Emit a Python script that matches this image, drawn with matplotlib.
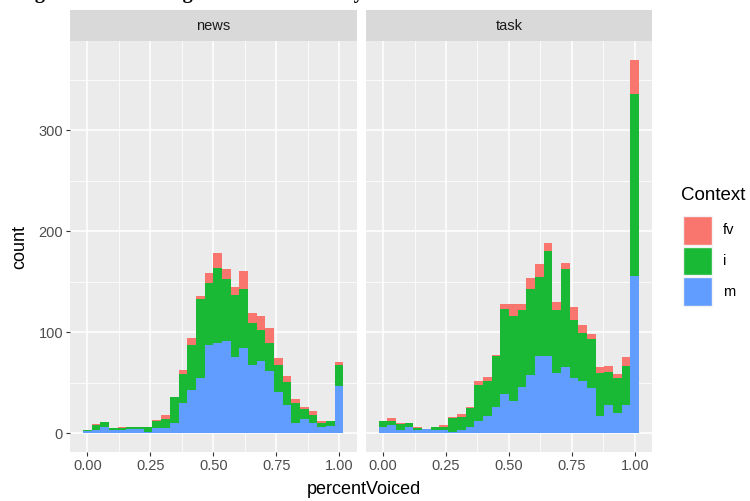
import matplotlib
matplotlib.use("Agg")
import matplotlib.pyplot as plt
from matplotlib.patches import Rectangle
from matplotlib.ticker import MultipleLocator
import numpy as np

plt.rcParams['font.family'] = ['Liberation Sans', 'DejaVu Sans']

# 30 bins centred on k/29 (ggplot default bins=30 over 0..1)
n_bins = 30
contexts = ["fv", "i", "m"]
colors = {"fv": "#F8766D", "i": "#19B936", "m": "#619CFF"}

# counts per bin
news_m = [2, 3, 6, 3, 3, 4, 4, 1, 5, 5, 10, 30, 43, 55, 87, 89, 91, 76, 84, 68,
          72, 62, 41, 28, 10, 14, 10, 6, 7, 47]
news_i = [1, 5, 5, 2, 2, 2, 2, 5, 7, 9, 26, 29, 44, 78, 62, 75, 62, 61, 59, 41,
          30, 27, 27, 23, 20, 10, 8, 4, 5, 21]
news_fv = [0, 1, 0, 0, 1, 0, 0, 0, 1, 4, 0, 4, 7, 3, 10, 15, 10, 8, 18, 10,
           14, 15, 7, 6, 4, 2, 4, 2, 0, 3]

task_m = [6, 8, 3, 6, 3, 4, 3, 3, 1, 3, 6, 12, 17, 26, 39, 32, 46, 58, 77, 77,
          60, 66, 55, 52, 45, 17, 28, 20, 28, 156]
task_i = [6, 4, 6, 4, 2, 0, 3, 3, 14, 13, 19, 36, 35, 51, 84, 84, 76, 85, 78, 104,
          62, 97, 57, 47, 48, 43, 33, 35, 39, 180]
task_fv = [0, 3, 1, 0, 1, 0, 0, 2, 1, 3, 1, 4, 4, 1, 5, 12, 6, 11, 13, 7,
           8, 6, 13, 8, 5, 6, 6, 4, 9, 34]

panels = [("news", news_m, news_i, news_fv), ("task", task_m, task_i, task_fv)]

W, H = 750, 501
fig = plt.figure(figsize=(W / 100, H / 100), dpi=100)

# title is cropped in the source image: only the descenders show at the top edge
fig.text(17 / W, 1 + 2 / H, "Figure 4. The Histogram of Voiced % by Context",
         family="Liberation Serif", weight="bold", fontsize=14.5,
         ha="left", va="baseline", color="black")

centers = np.arange(n_bins) / (n_bins - 1)
bw = 1 / (n_bins - 1)
ymax = max(max(np.array(m) + np.array(i) + np.array(f)) for _, m, i, f in panels)

lefts = [70, 365.7]
pw = 286.5
top_px, bot_px, strip_top = 41, 452, 10

for (name, m, i, f), lx in zip(panels, lefts):
    ax = fig.add_axes([lx / W, 1 - bot_px / H, pw / W, (bot_px - top_px) / H])
    ax.set_facecolor("#EBEBEB")
    m, i, f = np.array(m), np.array(i), np.array(f)
    ax.bar(centers, m, width=bw, color=colors["m"], linewidth=0, zorder=3)
    ax.bar(centers, i, width=bw, bottom=m, color=colors["i"], linewidth=0, zorder=3)
    ax.bar(centers, f, width=bw, bottom=m + i, color=colors["fv"], linewidth=0, zorder=3)

    lo, hi = -bw / 2, 1 + bw / 2
    pad = 0.05 * (hi - lo)
    ax.set_xlim(lo - pad, hi + pad)
    ax.set_ylim(-0.05 * ymax, 1.05 * ymax)
    ax.xaxis.set_major_locator(MultipleLocator(0.25))
    ax.xaxis.set_minor_locator(MultipleLocator(0.125))
    ax.yaxis.set_major_locator(MultipleLocator(100))
    ax.yaxis.set_minor_locator(MultipleLocator(50))
    ax.grid(which="major", color="white", linewidth=1.1, zorder=1)
    ax.grid(which="minor", color="white", linewidth=0.55, zorder=1)
    ax.set_axisbelow(True)
    for s in ax.spines.values():
        s.set_visible(False)
    ax.tick_params(which="minor", length=0)
    ax.tick_params(which="major", length=3, width=0.8, color="#333333",
                   labelcolor="#4D4D4D", labelsize=10.5, pad=2)
    ax.set_xticklabels([f"{v:.2f}" for v in ax.get_xticks()])
    if name == "task":
        ax.tick_params(axis="y", left=False, labelleft=False)
    else:
        ax.set_yticklabels([f"{int(v)}" for v in ax.get_yticks()])

    # facet strip
    sax = fig.add_axes([lx / W, 1 - top_px / H, pw / W, (top_px - strip_top) / H])
    sax.set_facecolor("#D9D9D9")
    sax.set_xticks([])
    sax.set_yticks([])
    for s in sax.spines.values():
        s.set_visible(False)
    sax.text(0.5, 0.5, name, ha="center", va="center", fontsize=10.5,
             color="#1A1A1A", transform=sax.transAxes)

fig.text(20 / W, 1 - 247 / H, "count", rotation=90, ha="center", va="center",
         fontsize=13, color="black")
fig.text(364 / W, 1 - 489 / H, "percentVoiced", ha="center", va="center",
         fontsize=13, color="black")

# legend drawn by hand so the keys come out as ggplot-sized squares
fig.text(681 / W, 1 - 195 / H, "Context", ha="left", va="center",
         fontsize=13.5, color="black")
key_w, key_h, key_gap = 29, 28.5, 30.7
for k, c in enumerate(contexts):
    ytop = 216 + k * key_gap
    fig.add_artist(Rectangle((683 / W, 1 - (ytop + key_h) / H), key_w / W, key_h / H,
                             facecolor=colors[c], edgecolor="#F2F2F2", linewidth=1,
                             transform=fig.transFigure))
    fig.text(723 / W, 1 - (ytop + key_h / 2) / H, c, ha="left", va="center",
             fontsize=10.5, color="black")

fig.savefig("out.png", dpi=100)
